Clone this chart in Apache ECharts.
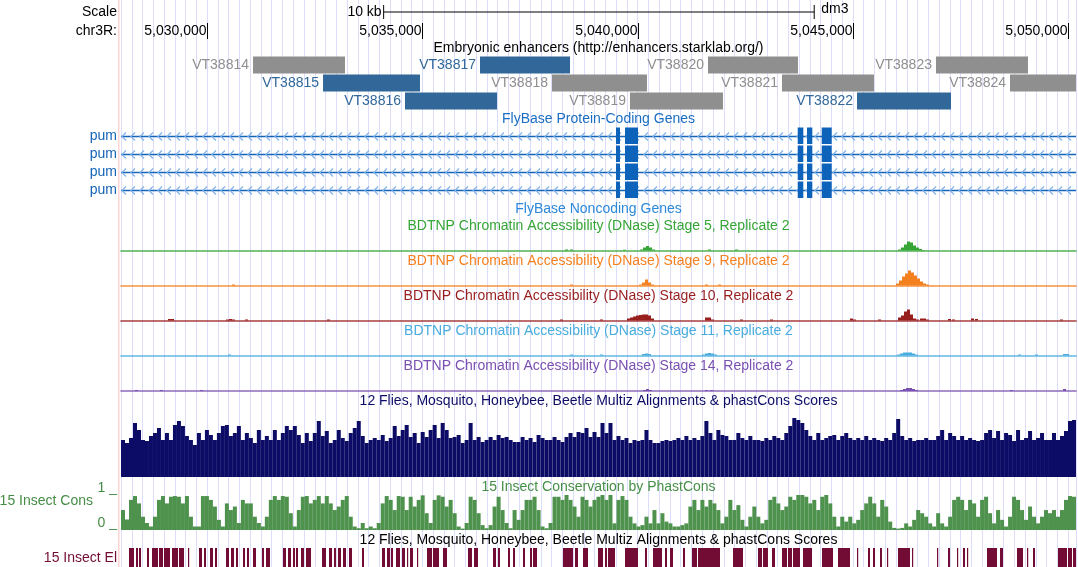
<!DOCTYPE html>
<html><head><meta charset="utf-8">
<script src="https://cdn.jsdelivr.net/npm/echarts@6/dist/echarts.min.js"></script>
<style>html,body{margin:0;padding:0;background:#fff}#c{width:1078px;height:567px}</style>
</head><body><div id="c"></div>
<script>
// ---------------- DATA ----------------
const chromName = 'chr3R';
const assembly = 'dm3';
const viewStart = 5028000, viewEnd = 5050180;
const rulerTicks = [5030000, 5035000, 5040000, 5045000, 5050000];
const scaleBarStart = 5034100, scaleBarEnd = 5044100;

const enhancerNames  = ['VT38814','VT38815','VT38816','VT38817','VT38818','VT38819','VT38820','VT38821','VT38822','VT38823','VT38824'];
const enhancerStarts = [5031066,5032692,5034596,5036338,5038010,5039821,5041633,5043352,5045094,5046928,5048647];
const enhancerEnds   = [5033202,5034944,5036733,5038428,5040216,5041981,5043723,5045488,5047277,5049065,5050700];
const enhancerActive = [false,true,true,true,false,false,false,false,true,false,false];

const transcriptNames = ['pum','pum','pum','pum'];
const exonStarts = [5039496,5039705,5043717,5043932,5044274];
const exonEnds   = [5039589,5040007,5043847,5044056,5044506];

const dnaseBinBp = 70;
const stage5Pos = [5038312,5038428,5039659,5040054,5040124,5040193,5040263,5040333,5041633,5042260,5046046,5046116,5046185,5046255,5046325,5046394,5046464,5046534,5046603];
const stage5Val = [1,1,0.8,1,3,4.5,3,1,1,1,1,3,6,9,8,5,3,1.5,0.5];
const stage9Pos = [5030578,5038428,5040031,5040101,5040170,5040240,5040309,5041563,5041865,5045999,5046069,5046139,5046208,5046278,5046348,5046417,5046487,5046557,5046626,5046696];
const stage9Val = [1,1,1,3,6,3,1,1,1,2,5,9,12,15,13,10,7,4,2,1];
const stage10Pos = [5029092,5029161,5030439,5030508,5030578,5030880,5032784,5038196,5039125,5039752,5039822,5039891,5039961,5040031,5040101,5040170,5040240,5040309,5041563,5041633,5041702,5042376,5043073,5044931,5045001,5045581,5046046,5046116,5046185,5046255,5046325,5046394,5046464,5046557,5046626,5046696,5047207,5047300,5047741,5047834,5049808];
const stage10Val = [1.5,1.5,1,1.5,1,1,1,1,1,2,3,4,5,5.5,6,6,5,2,3,3,1,1,1,2,1,1,3,5,9,11,6,2,1,2,2,1,1.5,1,2,1.5,1];
const stage11Pos = [5030485,5038428,5039125,5040101,5040170,5040240,5041494,5041563,5041633,5041702,5041772,5046023,5046093,5046162,5046232,5046302,5046371,5046441,5048833,5049228,5049878,5049948];
const stage11Val = [1,1,1,1.5,2,1.5,1,2,2.5,2,1,1,2,3,3,3,2,1,1,1,1.5,1.5];
const stage14Pos = [5028325,5028906,5029835,5040124,5040193,5040263,5041563,5041679,5046093,5046162,5046232,5046302,5046371,5046441,5048647,5049878];
const stage14Val = [1,1,1,1,2,1,1,1,1,2,3,3,2,1,1,2];

const multizScores = [
37,34,39,54,47,37,36,41,44,49,37,44,37,52,56,51,41,37,32,44,37,47,42,37,44,51,52,41,44,51,37,44,39,34,47,37,41,37,47,37,44,51,47,51,42,34,44,36,44,56,41,46,34,37,47,39,36,44,49,56,41,34,37,39,37,42,36,39,51,41,
47,52,40,44,34,45,40,47,52,39,54,47,39,40,42,34,37,54,37,40,35,37,40,37,42,39,40,37,35,35,40,37,39,35,42,39,37,37,40,37,35,40,44,40,45,44,49,40,45,40,
54,44,54,37,41,37,39,34,37,36,37,47,37,34,34,36,37,36,37,39,37,41,37,39,37,41,56,44,37,47,42,41,37,37,44,39,37,41,37,37,
36,39,37,41,39,37,44,51,59,57,54,47,41,37,44,37,39,41,42,37,41,44,39,37,39,37,41,37,39,37,36,39,37,44,58,41,37,39,36,37,
37,39,37,37,41,47,37,44,41,37,41,37,39,37,36,37,44,47,39,46,37,44,42,36,47,37,39,46,37,39,44,37,37,44,37,41,46,56,57];

const phastConsScores = [
.57,.3,.86,.97,.76,.38,.2,.1,.38,.86,.97,.76,.95,.97,.95,.76,.97,.38,.1,.1,.97,.97,.86,.67,.29,.1,.76,.57,.67,.2,
.86,.76,.76,.38,.2,.1,.38,.86,.97,.86,.97,.95,.48,.1,.57,.95,.97,.76,.86,.97,.76,.97,.76,.57,.67,.86,.97,.38,.1,.05,
.2,.05,.1,.05,.2,.76,.97,.86,.57,.97,
.95,.57,.95,.67,.86,.99,.48,.2,.86,.99,.95,.67,.86,.48,.1,.04,.2,.95,.86,.48,.14,.05,.14,.67,.95,.57,.2,.05,.57,.29,
.57,.86,.86,.95,.57,.1,.05,.2,.95,.95,.86,1,.86,.67,.38,.95,.86,.67,.86,.95,
1,.86,1,.19,.86,.97,.86,.38,.19,.1,.14,.38,.19,.57,.19,.48,.24,.19,.1,.1,.14,.19,.67,.86,.57,.86,.67,.86,.76,.57,
.19,.38,.86,.57,.71,.29,.1,.38,.67,.38,.19,.29,.86,.95,.76,.57,.67,.95,.86,1,1,.95,.76,.86,.57,.95,1,.76,.38,.1,
.38,.24,.38,.19,.29,.57,.76,.95,.76,.38,.86,.67,.24,.06,.04,.06,.19,.1,.29,.57,.48,.38,.19,.1,.48,.19,.1,.38,.86,.95,
.86,.57,.86,.76,.38,.86,.95,.48,.19,.57,.29,.1,.38,.95,.86,.57,.29,.67,.38,.19,.38,.57,.48,.57,.38,.57,.86,.97,.95];

const elementStarts = [5028186,5028348,5028418,5028604,5028720,5028883,5028999,5029184,5029347,5029556,5029812,5029928,5030067,5030183,5030439,5030555,5030671,5030833,5030926,5031066,5031275,5031368,5031762,5031879,5031995,5032064,5032181,5032297,5032668,5032831,5032947,5033040,5033156,5033295,5033597,5034062,5034178,5034271,5034387,5034526,5034642,5034712,5034874,5035107,5035246,5035478,5036059,5036198,5036640,5036756,5036988,5037104,5037336,5037499,5037569,5038265,5038544,5038730,5039078,5039241,5039311,5039705,5040170,5040356,5040634,5040751,5041052,5041261,5041401,5042214,5042795,5042910,5043119,5043352,5043491,5043607,5043839,5044281,5044652,5045094,5045349,5045465,5045628,5045790,5046046,5046371,5046952,5047207,5047416,5047555,5047648,5048113,5048415,5048809,5049042,5049181,5049762,5049994,5050110];
const elementEnds   = [5028302,5028395,5028465,5028650,5028859,5028975,5029138,5029324,5029463,5029579,5029881,5029974,5030137,5030230,5030508,5030624,5030717,5030880,5030973,5031135,5031321,5031461,5031832,5031948,5032041,5032111,5032250,5032413,5032761,5032900,5032993,5033110,5033226,5033365,5033644,5034131,5034248,5034317,5034480,5034596,5034666,5034782,5034898,5035223,5035386,5035571,5036152,5036291,5036709,5036802,5037035,5037151,5037383,5037545,5037662,5038498,5038614,5038846,5039194,5039287,5039473,5040007,5040216,5040565,5040681,5040820,5041099,5041378,5041912,5042446,5042887,5043026,5043189,5043468,5043584,5043770,5044048,5044536,5044931,5045117,5045395,5045512,5045674,5045814,5046325,5046394,5046975,5047254,5047439,5047602,5047672,5048345,5048484,5048949,5049065,5049228,5049971,5050087,5050180];

// ---------------- STYLE / LAYOUT ----------------
const F = '"Liberation Sans", Arial, Helvetica, sans-serif';
const FS = 14;
const L = 121, R = 2;
const BLUE_ENH = '#316899', GRAY_ENH = '#8f8f8f';
const GENE = '#1464b8', EXON = '#0c63b9', CHEV = '#80b2ea';
const stageColors = ['#35a535', '#f5801f', '#981d1d', '#48acde', '#7a50b0'];
const NAVY = '#0c0c66', CONS = '#458c45', ELEM = '#730c34';

const grids = [], xAxes = [], yAxes = [];
function addGrid(top, height, xa, ya) {
  const i = grids.length;
  grids.push({left: L, right: R, top: top, height: height, containLabel: false, outerBoundsMode: 'none'});
  xAxes.push(Object.assign({type: 'value', gridIndex: i, min: viewStart, max: viewEnd, show: false}, xa || {}));
  yAxes.push(Object.assign({type: 'value', gridIndex: i, min: 0, max: 1, show: false}, ya || {}));
  return i;
}
const gBg = addGrid(0, 567, {
  show: true, interval: 250,
  axisLabel: {show: false}, axisTick: {show: false}, axisLine: {show: false},
  splitLine: {show: true, lineStyle: {color: '#dcdcfb', width: 1}}
});
const gScale = addGrid(5, 14);
const gRuler = addGrid(23, 16);
const gEnh = addGrid(56, 54, null, {min: 0, max: 3, inverse: true});
const gGene = addGrid(127, 72, null, {min: 0, max: 4, inverse: true});
const dnaseBase = [250.5, 285.5, 320.5, 355.5, 391];
const gDnase = dnaseBase.map((b, k) => addGrid(b - 22, 22, {
  show: true, axisLabel: {show: false}, axisTick: {show: false}, splitLine: {show: false},
  axisLine: {show: true, lineStyle: {color: stageColors[k], width: 1.6, opacity: 0.85}}
}, {min: 0, max: 22}));
const gMultiz = addGrid(417, 60, {type: 'category', min: null, max: null, data: multizScores.map((_, i) => i), boundaryGap: true}, {min: 0, max: 60});
const gCons = addGrid(495, 35, {type: 'category', min: null, max: null, data: phastConsScores.map((_, i) => i), boundaryGap: true}, {min: 0, max: 1});
const gElem = addGrid(548, 19);

function txt(text, x, y, color, align, extra) {
  return {type: 'text', x: x, y: y, z: 100, silent: true, style: Object.assign({
    text: text, fill: color, fontSize: FS, fontFamily: F,
    align: align || 'center', verticalAlign: 'middle', textAlign: align || 'center', textVerticalAlign: 'middle'
  }, extra || {})};
}
const cx = (L + 1078 - R) / 2;
const stageNames = [5, 9, 10, 11, 14];

const series = [];
// scale bar
series.push({
  type: 'custom', xAxisIndex: gScale, yAxisIndex: gScale, silent: true, z: 10,
  data: [[scaleBarStart, scaleBarEnd]],
  renderItem: (params, api) => {
    const cs = params.coordSys;
    const a = api.coord([api.value(0), 0])[0], b = api.coord([api.value(1), 0])[0];
    const ym = cs.y + cs.height / 2;
    const kb = Math.round((api.value(1) - api.value(0)) / 1000) + ' kb';
    return {type: 'group', children: [
      {type: 'line', shape: {x1: a, y1: ym, x2: b, y2: ym}, style: {stroke: '#000', lineWidth: 1}},
      {type: 'line', shape: {x1: a, y1: cs.y, x2: a, y2: cs.y + cs.height}, style: {stroke: '#000', lineWidth: 1}},
      {type: 'line', shape: {x1: b, y1: cs.y, x2: b, y2: cs.y + cs.height}, style: {stroke: '#000', lineWidth: 1}},
      {type: 'text', style: {text: kb, x: a - 2, y: ym, fill: '#000', fontSize: FS, fontFamily: F, align: 'right', verticalAlign: 'middle'}},
      {type: 'text', style: {text: assembly, x: b + 7, y: ym - 3, fill: '#000', fontSize: FS, fontFamily: F, align: 'left', verticalAlign: 'middle'}}
    ]};
  }
});
// ruler ticks
series.push({
  type: 'custom', xAxisIndex: gRuler, yAxisIndex: gRuler, silent: true, z: 10,
  data: rulerTicks.map(t => [t]),
  renderItem: (params, api) => {
    const cs = params.coordSys;
    const x = Math.round(api.coord([api.value(0), 0])[0]) + 0.5;
    return {type: 'group', children: [
      {type: 'line', shape: {x1: x, y1: cs.y, x2: x, y2: cs.y + cs.height}, style: {stroke: '#000', lineWidth: 1}},
      {type: 'text', style: {text: api.value(0).toLocaleString('en-US'), x: x - 1, y: cs.y + cs.height / 2 + 0.5, fill: '#000', fontSize: FS, fontFamily: F, align: 'right', verticalAlign: 'middle'}}
    ]};
  }
});
// enhancers
series.push({
  type: 'custom', xAxisIndex: gEnh, yAxisIndex: gEnh, silent: true, z: 10,
  data: enhancerStarts.map((s, i) => [s, enhancerEnds[i]]),
  renderItem: (params, api) => {
    const i = params.dataIndex, row = i % 3, cs = params.coordSys;
    const a = api.coord([api.value(0), row]), b = api.coord([api.value(1), row + 1]);
    const x2 = Math.min(b[0], cs.x + cs.width);
    const col = enhancerActive[i] ? BLUE_ENH : GRAY_ENH;
    return {type: 'group', children: [
      {type: 'rect', shape: {x: a[0], y: a[1] + 0.5, width: x2 - a[0], height: b[1] - a[1] - 1}, style: {fill: col}},
      {type: 'text', style: {text: enhancerNames[i], x: a[0] - 4, y: (a[1] + b[1]) / 2 + 0.5, fill: col, fontSize: FS, fontFamily: F, align: 'right', verticalAlign: 'middle'}}
    ]};
  }
});
// genes
series.push({
  type: 'custom', xAxisIndex: gGene, yAxisIndex: gGene, silent: true, z: 10,
  data: transcriptNames.map((n, i) => [i]),
  renderItem: (params, api) => {
    const row = api.value(0), cs = params.coordSys;
    const top = api.coord([viewStart, row])[1], bot = api.coord([viewStart, row + 1])[1];
    const cy = Math.round((top + bot) / 2) + 0.5;
    const ch = [];
    ch.push({type: 'line', shape: {x1: cs.x, y1: cy, x2: cs.x + cs.width, y2: cy}, style: {stroke: GENE, lineWidth: 1.5}});
    for (let x = cs.x + 1; x < cs.x + cs.width - 3; x += 9) {
      ch.push({type: 'polyline', shape: {points: [[x + 4, cy - 4], [x, cy], [x + 4, cy + 4]]}, style: {stroke: CHEV, lineWidth: 1.2, fill: null}});
    }
    exonStarts.forEach((s, k) => {
      const a = api.coord([s, row])[0], b = api.coord([exonEnds[k], row])[0];
      ch.push({type: 'rect', shape: {x: a, y: top + 0.5, width: Math.max(b - a, 1.5), height: bot - top - 1.5}, style: {fill: EXON}});
    });
    ch.push({type: 'text', style: {text: transcriptNames[params.dataIndex], x: 117, y: cy, fill: GENE, fontSize: FS, fontFamily: F, align: 'right', verticalAlign: 'middle'}});
    return {type: 'group', children: ch};
  }
});
// DNase tracks
const dnasePos = [stage5Pos, stage9Pos, stage10Pos, stage11Pos, stage14Pos];
const dnaseVal = [stage5Val, stage9Val, stage10Val, stage11Val, stage14Val];
dnasePos.forEach((pos, k) => {
  const g = gDnase[k];
  series.push({
    type: 'custom', xAxisIndex: g, yAxisIndex: g, silent: true, z: 10,
    data: pos.map((p, j) => [p, dnaseVal[k][j]]),
    renderItem: (params, api) => {
      const a = api.coord([api.value(0), api.value(1)]);
      const b = api.coord([api.value(0) + dnaseBinBp, 0]);
      return {type: 'rect', shape: {x: a[0], y: a[1], width: b[0] - a[0], height: b[1] - a[1]}, style: {fill: stageColors[k]}};
    }
  });
});
// multiz
series.push({type: 'bar', xAxisIndex: gMultiz, yAxisIndex: gMultiz, data: multizScores, barCategoryGap: '0%', barGap: '0%', silent: true, z: 10,
  itemStyle: {color: NAVY}});
// phastCons
series.push({type: 'bar', xAxisIndex: gCons, yAxisIndex: gCons, data: phastConsScores, barCategoryGap: '0%', barGap: '0%', silent: true, z: 10,
  itemStyle: {color: CONS, opacity: 0.95}});
// conserved elements
series.push({
  type: 'custom', xAxisIndex: gElem, yAxisIndex: gElem, silent: true, z: 10,
  data: elementStarts.map((s, i) => [s, elementEnds[i]]),
  renderItem: (params, api) => {
    const cs = params.coordSys;
    const a = api.coord([api.value(0), 1]), b = api.coord([api.value(1), 0]);
    const x2 = Math.min(b[0], cs.x + cs.width);
    return {type: 'rect', shape: {x: a[0], y: cs.y, width: Math.max(x2 - a[0], 1.2), height: cs.height}, style: {fill: ELEM}};
  }
});

const graphics = [
  {type: 'rect', silent: true, z: 50, shape: {x: 118, y: 0, width: 1.5, height: 567}, style: {fill: '#ffd4d4'}},
  txt('Scale', 117, 12, '#000', 'right'),
  txt(chromName + ':', 117, 31, '#000', 'right'),
  txt('Embryonic enhancers (http://enhancers.starklab.org/)', cx, 48, '#000'),
  txt('FlyBase Protein-Coding Genes', cx, 119, '#1a6dc2'),
  txt('FlyBase Noncoding Genes', cx, 209, '#2c88d8'),
  txt('12 Flies, Mosquito, Honeybee, Beetle Multiz Alignments & phastCons Scores', cx, 401, NAVY),
  txt('15 Insect Conservation by PhastCons', cx, 487, '#468f46'),
  txt('12 Flies, Mosquito, Honeybee, Beetle Multiz Alignments & phastCons Scores', cx, 540, '#000'),
  txt('15 Insect Cons', 93, 501, '#458c45', 'right'),
  txt('1 _', 117, 488, '#458c45', 'right'),
  txt('0 _', 117, 523, '#458c45', 'right'),
  txt('15 Insect El', 117, 558, ELEM, 'right')
];
stageNames.forEach((s, k) => {
  graphics.push(txt('BDTNP Chromatin Accessibility (DNase) Stage ' + s + ', Replicate 2', cx, dnaseBase[k] - 24.5, stageColors[k]));
});

const chart = echarts.init(document.getElementById('c'), null, {renderer: 'canvas'});
chart.setOption({
  animation: false,
  backgroundColor: '#fff',
  grid: grids, xAxis: xAxes, yAxis: yAxes,
  series: series,
  graphic: {elements: graphics}
});
</script>
</body></html>
